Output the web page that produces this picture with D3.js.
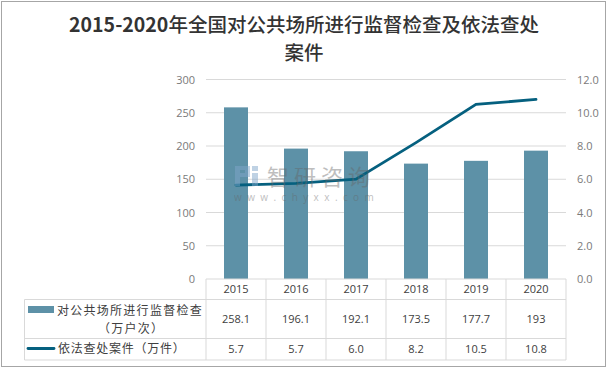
<!DOCTYPE html>
<html>
<head>
<meta charset="utf-8">
<script src="https://cdn.jsdelivr.net/npm/d3@7"></script>
<style>
  html, body { margin: 0; padding: 0; background: #fff; }
  svg { display: block; }
  text { font-family: "Noto Sans CJK SC", sans-serif; }
</style>
</head>
<body>
<svg id="chart" width="608" height="369"></svg>
<script>
// Chart data
const years = ["2015", "2016", "2017", "2018", "2019", "2020"];
const inspections = [258.1, 196.1, 192.1, 173.5, 177.7, 193];
const cases = [5.65, 5.75, 6.0, 8.2, 10.5, 10.8]; // as drawn, the table rounds them
const inspectionLabels = ["258.1", "196.1", "192.1", "173.5", "177.7", "193"];
const caseLabels = ["5.7", "5.7", "6.0", "8.2", "10.5", "10.8"];
const leftTicks = [0, 50, 100, 150, 200, 250, 300];
const rightTicks = [0, 2, 4, 6, 8, 10, 12];

const barColour = "#5d91a7";
const lineColour = "#05607f";
const gridColour = "#d9d9d9";
const axisText = "#7a7a7a";
const tableText = "#404040";

const svg = d3.select("#chart");

// Outer frame
svg.append("rect")
    .attr("x", 1.5).attr("y", 1.5)
    .attr("width", 604).attr("height", 365)
    .attr("fill", "#fff")
    .attr("stroke", "#a6a6a6")
    .attr("stroke-width", 1);

// Title, the digits are heavier than the Chinese
const title = svg.append("text")
    .attr("x", 304).attr("y", 31.5)
    .attr("text-anchor", "middle")
    .attr("font-size", 19.5)
    .attr("fill", "#333");
title.append("tspan").attr("font-weight", 700).text("2015-2020");
title.append("tspan").attr("font-weight", 500).text("年全国对公共场所进行监督检查及依法查处");
svg.append("text")
    .attr("x", 304).attr("y", 60)
    .attr("text-anchor", "middle")
    .attr("font-size", 19.5)
    .attr("font-weight", 500)
    .attr("fill", "#333")
    .text("案件");

// Scales
const x = d3.scaleBand().domain(years).range([206, 566]);
const yLeft = d3.scaleLinear().domain([0, 300]).range([279, 79.5]);
const yRight = d3.scaleLinear().domain([0, 12]).range([279, 79.5]);
const barWidth = 24;

// Gridlines
svg.append("g").selectAll("line")
    .data(leftTicks.slice(1))
    .enter()
    .append("line")
    .attr("x1", 206).attr("x2", 566)
    .attr("y1", d => yLeft(d)).attr("y2", d => yLeft(d))
    .attr("stroke", gridColour);

// Axes
const leftAxis = svg.append("g")
    .attr("transform", "translate(206,0)")
    .call(d3.axisLeft(yLeft).tickValues(leftTicks).tickSize(0).tickPadding(11));
const rightAxis = svg.append("g")
    .attr("transform", "translate(566,0)")
    .call(d3.axisRight(yRight).tickValues(rightTicks).tickSize(0).tickPadding(11).tickFormat(d3.format(".1f")));
for (const axis of [leftAxis, rightAxis]) {
    axis.select(".domain").remove();
    axis.selectAll("text")
        .style("font-family", "'Open Sans', sans-serif")
        .attr("font-size", 11)
        .attr("fill", axisText);
}

// Bars
svg.append("g").selectAll("rect")
    .data(inspections)
    .enter()
    .append("rect")
    .attr("x", (d, i) => x(years[i]) + x.bandwidth() / 2 - barWidth / 2)
    .attr("y", d => yLeft(d))
    .attr("width", barWidth)
    .attr("height", d => yLeft(0) - yLeft(d))
    .attr("fill", barColour);

// Line
svg.append("path")
    .datum(cases)
    .attr("fill", "none")
    .attr("stroke", lineColour)
    .attr("stroke-width", 2.8)
    .attr("stroke-linecap", "round")
    .attr("d", d3.line()
        .x((d, i) => x(years[i]) + x.bandwidth() / 2)
        .y(d => yRight(d)));

// Watermark, over the marks
const mark = svg.append("g");
mark.append("path")
    .attr("d", "M235 166h15v11h-10v9h-5zM240 170v3h5v-3zM252 166h6v5h-6zM252 173h6v13h-6z")
    .attr("fill", "#7fa6c9")
    .attr("fill-rule", "evenodd")
    .attr("opacity", 0.5);
mark.append("text")
    .attr("x", 267).attr("y", 185)
    .attr("font-size", 22)
    .attr("letter-spacing", 5)
    .attr("fill", "#666")
    .attr("opacity", 0.42)
    .text("智研咨询");
mark.append("text")
    .attr("x", 234).attr("y", 201)
    .attr("font-size", 10)
    .attr("letter-spacing", 5.4)
    .style("font-family", "'Open Sans', sans-serif")
    .attr("fill", "#666")
    .attr("opacity", 0.42)
    .text("www.chyxx.com");

// Data table
const table = svg.append("g");
const rowEdges = [279, 299.5, 338.5, 360];
const colEdges = [206].concat(years.map(y => x(y) + x.bandwidth()));
const tableLine = (x1, y1, x2, y2) => table.append("line")
    .attr("x1", x1).attr("y1", y1).attr("x2", x2).attr("y2", y2)
    .attr("stroke", gridColour);

rowEdges.forEach((r, i) => tableLine(i === 0 ? 206 : 24.5, r, 566, r));
colEdges.forEach(c => tableLine(c, 279, c, 360));
tableLine(24.5, 299.5, 24.5, 360);

const cellText = (tx, ty, text, size) => table.append("text")
    .attr("x", tx).attr("y", ty)
    .attr("text-anchor", "middle")
    .attr("font-size", size)
    .attr("fill", tableText)
    .text(text);

years.forEach((y, i) => {
    const cx = x(y) + x.bandwidth() / 2;
    cellText(cx, 293, y, 11).style("font-family", "'Open Sans', sans-serif");
    cellText(cx, 323, inspectionLabels[i], 11).style("font-family", "'Open Sans', sans-serif");
    cellText(cx, 353, caseLabels[i], 11).style("font-family", "'Open Sans', sans-serif");
});

// Legend cells
table.append("rect")
    .attr("x", 28).attr("y", 306)
    .attr("width", 26).attr("height", 7)
    .attr("fill", barColour);
table.append("text")
    .attr("x", 57).attr("y", 314.5)
    .attr("font-size", 12)
    .attr("letter-spacing", 1.27)
    .attr("fill", tableText)
    .text("对公共场所进行监督检查");
table.append("text")
    .attr("x", 98).attr("y", 332.5)
    .attr("font-size", 12)
    .attr("letter-spacing", 1.27)
    .attr("fill", tableText)
    .text("（万户次）");
table.append("line")
    .attr("x1", 28).attr("x2", 54)
    .attr("y1", 348.5).attr("y2", 348.5)
    .attr("stroke", lineColour)
    .attr("stroke-width", 2.8)
    .attr("stroke-linecap", "round");
table.append("text")
    .attr("x", 58).attr("y", 352.5)
    .attr("font-size", 12)
    .attr("letter-spacing", 0.75)
    .attr("fill", tableText)
    .text("依法查处案件（万件）");
</script>
</body>
</html>
